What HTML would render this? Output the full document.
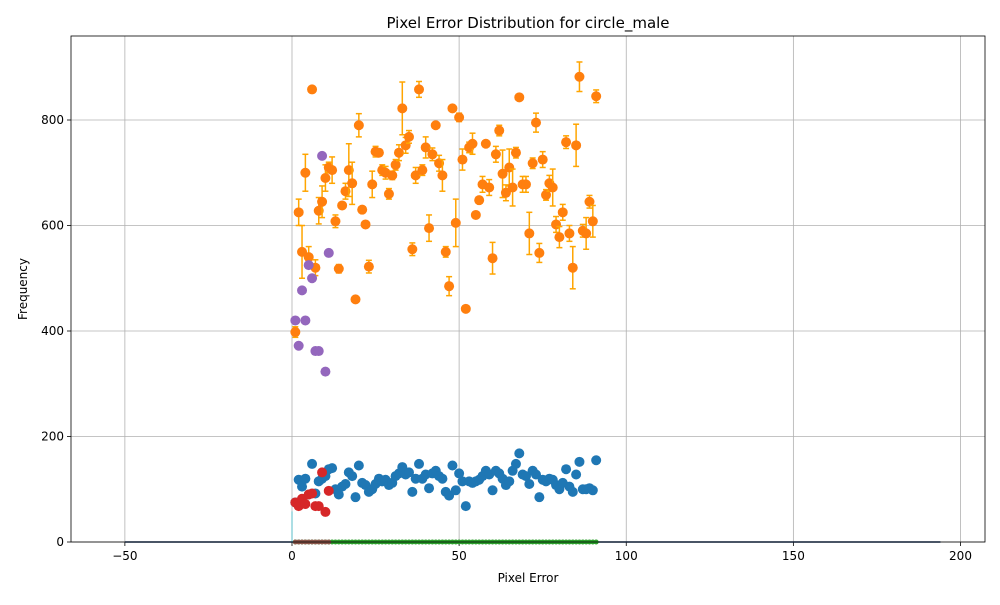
<!DOCTYPE html>
<html><head><meta charset="utf-8"><style>
body{margin:0;background:#fff;font-family:"Liberation Sans","DejaVu Sans",sans-serif}
svg text{font-family:"DejaVu Sans","Liberation Sans",sans-serif}
</style></head><body>
<svg id="c" width="1000" height="600">
<rect width="1000" height="600" fill="#fff"/>
</svg>
<script>
const xTicks=[-50,0,50,100,150,200];
const yTicks=[0,200,400,600,800];
const orangeVals=[398,625,550,700,540,858,520,628,645,690,710,705,608,518,638,665,705,680,460,790,630,602,522,678,740,738,705,700,660,695,715,738,822,752,768,555,695,858,705,748,595,735,790,718,695,550,485,822,605,805,725,442,748,755,620,648,678,755,672,538,735,780,698,662,710,672,738,843,678,678,585,718,795,548,725,658,680,672,602,578,625,758,585,520,752,882,590,585,645,608,845];
const orangeErr=[10,25,50,35,20,0,15,25,30,25,10,25,12,8,5,15,50,40,0,22,5,5,12,25,10,5,10,12,10,8,10,15,50,15,12,12,15,15,10,20,25,12,5,15,30,10,18,5,45,8,20,0,10,20,5,5,15,5,15,30,15,10,45,15,35,35,10,5,15,15,40,10,18,18,15,10,15,35,15,20,15,12,15,40,40,28,12,30,12,30,12];
const blueVals=[75,118,105,120,90,148,92,115,120,125,138,140,100,90,105,110,132,125,85,145,112,108,95,100,110,120,115,118,108,112,125,130,142,128,132,95,120,148,120,128,102,130,135,125,120,95,88,145,98,130,115,68,115,112,115,118,125,135,128,98,135,130,120,108,115,135,148,168,128,125,110,135,128,85,118,115,120,118,108,100,112,138,105,95,128,152,100,100,102,98,155];
const redVals=[75,68,82,72,90,92,68,68,132,57,97];
const purpleVals=[420,372,477,420,525,500,362,362,732,323,548];
const NS="http://www.w3.org/2000/svg";
const svg=document.getElementById('c');
const L=71,R=985,T=36,B=542;
const xs=v=>292+(v)*3.3425;
const ys=v=>B-v*0.5275;
function el(tag,attrs,parent){const e=document.createElementNS(NS,tag);for(const k in attrs)e.setAttribute(k,attrs[k]);(parent||svg).appendChild(e);return e;}
xTicks.forEach(t=>{const g=el('line',{x1:xs(t),x2:xs(t),y1:T,y2:B,stroke:'#b0b0b0','stroke-width':0.8});

el('line',{x1:xs(t),x2:xs(t),y1:B,y2:B+4,stroke:'#000','stroke-width':0.8});
const tx=el('text',{x:xs(t),y:B+18,'font-size':12,'text-anchor':'middle'});tx.textContent=String(t).replace('-','\u2212');
});
yTicks.forEach(t=>{const g=el('line',{x1:L,x2:R,y1:ys(t),y2:ys(t),stroke:'#b0b0b0','stroke-width':0.8});

el('line',{x1:L-4,x2:L,y1:ys(t),y2:ys(t),stroke:'#000','stroke-width':0.8});
const tx=el('text',{x:L-7,y:ys(t)+4,'font-size':12,'text-anchor':'end'});tx.textContent=t;
});
el('line',{x1:xs(-50),x2:xs(194),y1:ys(0),y2:ys(0),stroke:'#1f3f6f','stroke-width':1.5});
el('line',{x1:xs(0),x2:xs(0),y1:ys(0),y2:ys(58),stroke:'#17becf','stroke-width':1,opacity:0.6});
for(let i=1;i<=91;i++){const c=el('circle',{cx:xs(i),cy:ys(0),r:2.5,fill:'#2ca02c'});
}
for(let i=1;i<=11;i++){el('circle',{cx:xs(i),cy:ys(0),r:2.5,fill:'#8c564b'});}
function errbar(x,v,e){if(!e)return;const X=xs(x);
el('line',{x1:X,x2:X,y1:ys(v-e),y2:ys(v+e),stroke:'orange','stroke-width':1.5});
el('line',{x1:X-3,x2:X+3,y1:ys(v-e),y2:ys(v-e),stroke:'orange','stroke-width':1.5});
el('line',{x1:X-3,x2:X+3,y1:ys(v+e),y2:ys(v+e),stroke:'orange','stroke-width':1.5});}
blueVals.forEach((v,i)=>{errbar(i+1,v,i%5==0?6:0);const c=el('circle',{cx:xs(i+1),cy:ys(v),r:5,fill:'#1f77b4'});
});
redVals.forEach((v,i)=>{const c=el('circle',{cx:xs(i+1),cy:ys(v),r:5,fill:'#d62728'});
});
orangeVals.forEach((v,i)=>{errbar(i+1,v,orangeErr[i]);const c=el('circle',{cx:xs(i+1),cy:ys(v),r:5,fill:'#ff7f0e'});
});
purpleVals.forEach((v,i)=>{const c=el('circle',{cx:xs(i+1),cy:ys(v),r:5,fill:'#9467bd'});
});
const f=el('rect',{x:L,y:T,width:R-L,height:B-T,fill:'none',stroke:'#000','stroke-width':0.8});

</script>
<svg style="position:absolute;left:0;top:0" width="1000" height="600">
<text x="528" y="28" font-size="15" text-anchor="middle">Pixel Error Distribution for circle_male</text>
<text x="528" y="582" font-size="12" text-anchor="middle">Pixel Error</text>
<text x="27" y="289" font-size="12" text-anchor="middle" transform="rotate(-90 27 289)">Frequency</text>
</svg>
</body></html>
